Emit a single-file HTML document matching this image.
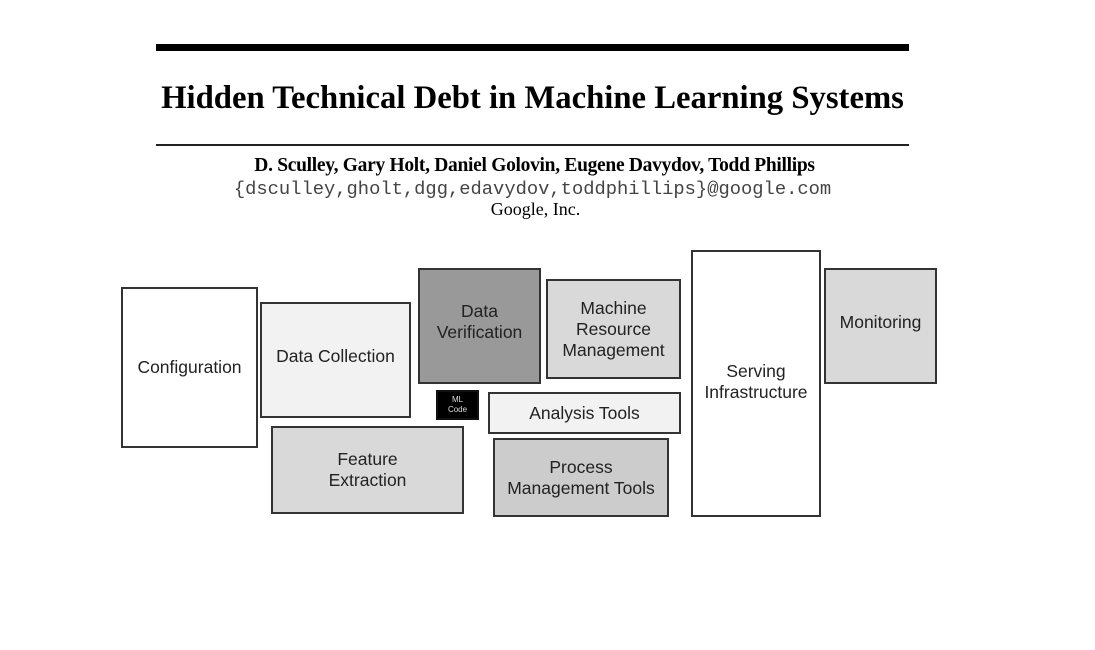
<!DOCTYPE html>
<html><head><style>
body{margin:0;width:1095px;height:650px;background:#fff;position:relative;overflow:hidden}
.b{position:absolute;box-sizing:border-box;border:2px solid #333;display:flex;align-items:center;justify-content:center;text-align:center;font-family:"Liberation Sans",sans-serif;font-size:17.5px;line-height:21px;color:#222}
.t{position:absolute;left:0;width:1095px;text-align:center;white-space:nowrap}
</style></head><body>
<div style="position:absolute;left:156px;top:44px;width:753px;height:7px;background:#000"></div>
<div class="t" style="top:80px;left:-15px;font-family:'Liberation Serif',serif;font-weight:bold;font-size:32.7px">Hidden Technical Debt in Machine Learning Systems</div>
<div style="position:absolute;left:156px;top:144px;width:753px;height:2px;background:#222"></div>
<div class="t" style="top:155px;left:-13px;font-family:'Liberation Serif',serif;font-weight:bold;font-size:19.5px;letter-spacing:-0.3px">D. Sculley, Gary Holt, Daniel Golovin, Eugene Davydov, Todd Phillips</div>
<div class="t" style="top:178px;left:-15px;font-family:'Liberation Mono',monospace;font-size:18.8px;color:#444">{dsculley,gholt,dgg,edavydov,toddphillips}@google.com</div>
<div class="t" style="top:199px;left:-12px;font-family:'Liberation Serif',serif;font-size:18px">Google, Inc.</div>

<div class="b" style="left:121px;top:287px;width:137px;height:161px;background:#fff">Configuration</div>
<div class="b" style="left:260px;top:302px;width:151px;height:116px;background:#f2f2f2;padding-bottom:8px">Data Collection</div>
<div class="b" style="left:418px;top:268px;width:123px;height:116px;background:#999;padding-bottom:8px">Data<br>Verification</div>
<div class="b" style="left:436px;top:390px;width:43px;height:30px;background:#000;color:#ddd;font-size:8px;line-height:10px;border-color:#111">ML<br>Code</div>
<div class="b" style="left:546px;top:279px;width:135px;height:100px;background:#d9d9d9">Machine<br>Resource<br>Management</div>
<div class="b" style="left:488px;top:392px;width:193px;height:42px;background:#f2f2f2">Analysis Tools</div>
<div class="b" style="left:271px;top:426px;width:193px;height:88px;background:#d9d9d9">Feature<br>Extraction</div>
<div class="b" style="left:493px;top:438px;width:176px;height:79px;background:#ccc">Process<br>Management Tools</div>
<div class="b" style="left:691px;top:250px;width:130px;height:267px;background:#fff;padding-bottom:4px">Serving<br>Infrastructure</div>
<div class="b" style="left:824px;top:268px;width:113px;height:116px;background:#d9d9d9;padding-bottom:8px">Monitoring</div>
</body></html>
